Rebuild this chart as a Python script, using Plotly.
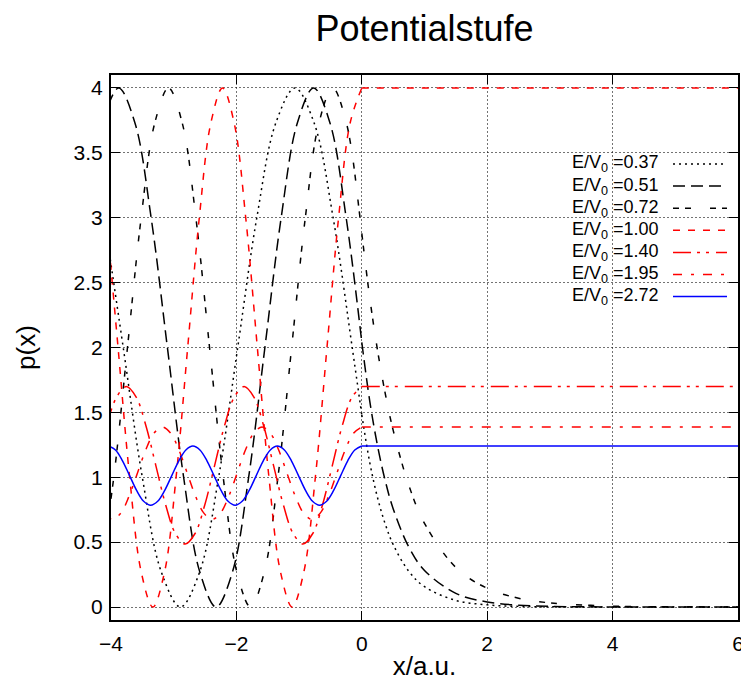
import plotly.graph_objects as go

# ---------------- data ----------------
ratio_labels = ["0.37", "0.51", "0.72", "1.00", "1.40", "1.95", "2.72"]

x_037 = [-4.1093, -3.8050, -3.5006, -3.1963, -2.8919, -2.5876, -2.2833, -1.9789,
         -1.6746, -1.3702, -1.0659, -0.7616, -0.4572, -0.1529, 0,
         0.125, 0.25, 0.375, 0.5, 0.75, 1, 1.5, 2, 2.5, 3, 4, 5, 6]
p_037 = [3.0, 2.0, 1.0, 0.268, 0.0, 0.268, 1.0, 2.0,
         3.0, 3.732, 4.0, 3.732, 3.0, 2.0, 1.48,
         1.118, 0.844, 0.638, 0.482, 0.275, 0.157, 0.051, 0.017, 0.005, 0.002, 0.0002, 0, 0]

x_051 = [-4.1377, -3.8785, -3.6192, -3.3599, -3.1007, -2.8415, -2.5823, -2.3231,
         -2.0639, -1.8046, -1.5454, -1.2862, -1.0270, -0.7678, -0.5086, -0.2494, 0,
         0.125, 0.25, 0.375, 0.5, 0.75, 1, 1.5, 2, 2.5, 3, 4, 5, 6]
p_051 = [3.732, 4.0, 3.732, 3.0, 2.0, 1.0, 0.268, 0.0,
         0.268, 1.0, 2.0, 3.0, 3.732, 4.0, 3.732, 3.0, 2.04,
         1.593, 1.244, 0.971, 0.758, 0.462, 0.282, 0.105, 0.039, 0.014, 0.005, 0.0007, 0.0001, 0]

x_072 = [-4.1737, -3.9555, -3.7373, -3.5191, -3.3010, -3.0828, -2.8646, -2.6464,
         -2.4283, -2.2101, -1.9919, -1.7737, -1.5556, -1.3374, -1.1192, -0.9010,
         -0.6829, -0.4647, -0.2465, -0.0284, 0,
         0.125, 0.25, 0.375, 0.5, 0.75, 1, 1.5, 2, 2.5, 3, 4, 5, 6]
p_072 = [0.268, 1.0, 2.0, 3.0, 3.732, 4.0, 3.732, 3.0,
         2.0, 1.0, 0.268, 0.0, 0.268, 1.0, 2.0, 3.0,
         3.732, 4.0, 3.732, 3.0, 2.88,
         2.389, 1.981, 1.643, 1.363, 0.938, 0.645, 0.305, 0.144, 0.068, 0.032, 0.007, 0.002, 0.0004]

x_100 = [-4.0726, -3.8875, -3.7024, -3.5173, -3.3322, -3.1470, -2.9619, -2.7768,
         -2.5917, -2.4066, -2.2214, -2.0363, -1.8512, -1.6661, -1.4810, -1.2958,
         -1.1107, -0.9256, -0.7405, -0.5554, -0.3702, -0.1851, 0, 6]
p_100 = [3.0, 2.0, 1.0, 0.268, 0.0, 0.268, 1.0, 2.0,
         3.0, 3.732, 4.0, 3.732, 3.0, 2.0, 1.0, 0.268,
         0.0, 0.268, 1.0, 2.0, 3.0, 3.732, 4.0, 4.0]

x_140 = [-4.0679, -3.9114, -3.7549, -3.5985, -3.4420, -3.2856, -3.1291, -2.9727,
         -2.8162, -2.6598, -2.5033, -2.3468, -2.1904, -2.0339, -1.8775, -1.7210,
         -1.5646, -1.4081, -1.2516, -1.0952, -0.9387, -0.7823, -0.6258, -0.4694,
         -0.3129, -0.1565, 0, 6]
p_140 = [1.3953, 1.6174, 1.6987, 1.6174, 1.3953, 1.0920, 0.7887, 0.5666,
         0.4853, 0.5666, 0.7887, 1.0920, 1.3953, 1.6174, 1.6987, 1.6174,
         1.3953, 1.0920, 0.7887, 0.5666, 0.4853, 0.5666, 0.7887, 1.0920,
         1.3953, 1.6174, 1.6987, 1.6987]

x_195 = [-4.1096, -3.9770, -3.8445, -3.7119, -3.5793, -3.4468, -3.3142, -3.1816,
         -3.0491, -2.9165, -2.7839, -2.6514, -2.5188, -2.3862, -2.2537, -2.1211,
         -1.9885, -1.8560, -1.7234, -1.5908, -1.4582, -1.3257, -1.1931, -1.0605,
         -0.9280, -0.7954, -0.6628, -0.5303, -0.3977, -0.2651, -0.1326, 0, 6]
p_195 = [0.7236, 0.6759, 0.7236, 0.8538, 1.0316, 1.2095, 1.3397, 1.3874,
         1.3397, 1.2095, 1.0316, 0.8538, 0.7236, 0.6759, 0.7236, 0.8538,
         1.0316, 1.2095, 1.3397, 1.3874, 1.3397, 1.2095, 1.0316, 0.8538,
         0.7236, 0.6759, 0.7236, 0.8538, 1.0316, 1.2095, 1.3397, 1.3874, 1.3874]

x_272 = [-4.0409, -3.9286, -3.8164, -3.7041, -3.5919, -3.4796, -3.3674, -3.2551,
         -3.1429, -3.0306, -2.9184, -2.8061, -2.6939, -2.5817, -2.4694, -2.3572,
         -2.2449, -2.1327, -2.0204, -1.9082, -1.7959, -1.6837, -1.5714, -1.4592,
         -1.3470, -1.2347, -1.1225, -1.0102, -0.8980, -0.7857, -0.6735, -0.5612,
         -0.4490, -0.3367, -0.2245, -0.1122, 0, 6]
p_272 = [1.2412, 1.2106, 1.1271, 1.0130, 0.8989, 0.8154, 0.7849, 0.8154,
         0.8989, 1.0130, 1.1271, 1.2106, 1.2412, 1.2106, 1.1271, 1.0130,
         0.8989, 0.8154, 0.7849, 0.8154, 0.8989, 1.0130, 1.1271, 1.2106,
         1.2412, 1.2106, 1.1271, 1.0130, 0.8989, 0.8154, 0.7849, 0.8154,
         0.8989, 1.0130, 1.1271, 1.2106, 1.2412, 1.2412]

x_ticks = [-4, -2, 0, 2, 4, 6]
y_ticks = [0, 0.5, 1, 1.5, 2, 2.5, 3, 3.5, 4]

# ---------------- styles ----------------
styles = [
    dict(color="#000000", dash="2px,4px"),
    dict(color="#000000", dash="12px,6px"),
    dict(color="#000000", dash="6px,6px,6px,19px"),
    dict(color="#ff0000", dash="7px,8px"),
    dict(color="#ff0000", dash="18px,6px,3px,6px,3px,7px"),
    dict(color="#ff0000", dash="9px,9px,3px,9px"),
    dict(color="#0000ff", dash="solid"),
]
series_x = [x_037, x_051, x_072, x_100, x_140, x_195, x_272]
series_p = [p_037, p_051, p_072, p_100, p_140, p_195, p_272]

FONT = "Liberation Sans, Arial, Helvetica, sans-serif"
PAGE_W, PAGE_H = 749, 689
OFF = 8  # default body margin of the html page
W, H = PAGE_W - OFF, PAGE_H - 2 * OFF
# plot frame in page pixels
FL, FR, FT, FB = 111, 738, 75, 620
L, T = FL - OFF, FT - OFF
R, B = W - (FR - OFF), H - (FB - OFF)
LW = 1.5

fig = go.Figure()
for lab, xs, ps, st in zip(ratio_labels, series_x, series_p, styles):
    i0 = xs.index(0)
    for xa, pa in ((xs[: i0 + 1], ps[: i0 + 1]), (xs[i0:], ps[i0:])):
        fig.add_trace(go.Scatter(
            x=xa, y=pa, mode="lines", showlegend=False, hoverinfo="skip",
            line=dict(color=st["color"], dash=st["dash"], width=LW,
                      shape="spline", smoothing=1.0),
        ))

# ---------------- manual gnuplot-style key ----------------
plot_w = FR - FL
plot_h = FB - FT
key_top_px = 164
key_step_px = 22.1
text_right_px = 661
sample_x0_px, sample_x1_px = 673, 727
for i, (lab, st) in enumerate(zip(ratio_labels, styles)):
    ypx = key_top_px + i * key_step_px
    yp = (FB - ypx) / plot_h
    fig.add_annotation(
        x=(text_right_px - FL) / plot_w, y=yp, xref="paper", yref="paper",
        text=f"E/V<sub>0</sub> ={lab}", showarrow=False,
        xanchor="right", yanchor="middle",
        font=dict(family=FONT, size=18, color="black"),
    )
    fig.add_shape(
        type="line", xref="paper", yref="paper",
        x0=(sample_x0_px - FL) / plot_w, x1=(sample_x1_px - FL) / plot_w,
        y0=yp, y1=yp,
        line=dict(color=st["color"], dash=st["dash"], width=LW),
    )

axis_common = dict(
    showline=True, linecolor="black", linewidth=2, mirror="ticks",
    ticks="inside", ticklen=9, tickwidth=1, tickcolor="black",
    showgrid=True, gridcolor="rgba(0,0,0,0.55)", gridwidth=1, griddash="2px,2px",
    zeroline=False, automargin=False, ticklabeloverflow="allow",
    tickfont=dict(family=FONT, size=21, color="black"),
)

fig.update_layout(
    width=W, height=H, autosize=False,
    margin=dict(l=L, r=R, t=T, b=B, pad=0),
    paper_bgcolor="white", plot_bgcolor="white",
    title=dict(text="Potentialstufe", x=((FL + FR) / 2 - OFF) / W, xanchor="center",
               y=1 - (28 - OFF) / H, yanchor="middle", yref="container",
               font=dict(family=FONT, size=36, color="black")),
    xaxis=dict(range=[-4, 6], tickvals=x_ticks, ticklabelstandoff=4,
               title=dict(text="x/a.u.", standoff=10,
                          font=dict(family=FONT, size=26, color="black")),
               **axis_common),
    yaxis=dict(range=[-0.1, 4.1], tickvals=y_ticks, ticklabelstandoff=2,
               title=dict(text="p(x)", standoff=30,
                          font=dict(family=FONT, size=26, color="black")),
               **axis_common),
    showlegend=False,
)

fig.write_html("out.html")
